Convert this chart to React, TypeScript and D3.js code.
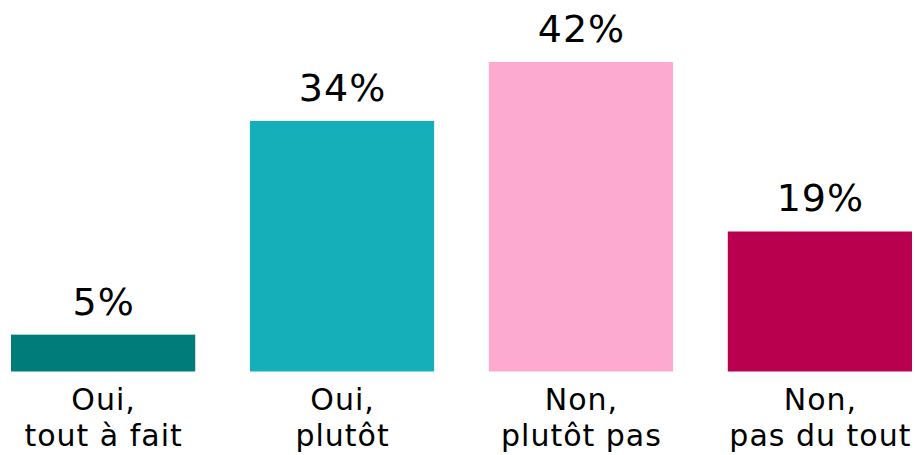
import React from "react";
import * as d3 from "d3";

const categories = ["Oui,\ntout à fait", "Oui,\nplutôt", "Non,\nplutôt pas", "Non,\npas du tout"];
const values = [5, 34, 42, 19];
const colors = ["#007D7A", "#14AFB8", "#FDAAD1", "#B9004F"];

const W = 915;
const H = 455;

export default function App() {
  const x = d3.scaleBand<string>().domain(categories).range([11, 912]).paddingInner(0.229).paddingOuter(0);
  const y = d3.scaleLinear().domain([0, 42]).range([371.5, 62]);
  const font = "'DejaVu Sans', Verdana, sans-serif";
  return (
    <svg width={W} height={H} style={{ position: "absolute", left: 0, top: 0, background: "#fff" }} fontFamily={font}>
      {categories.map((c, i) => {
        const bx = x(c)!;
        const bw = x.bandwidth();
        const cx = bx + bw / 2;
        const lines = c.split("\n");
        return (
          <g key={c}>
            <rect x={bx} y={y(values[i])} width={bw} height={y(0) - y(values[i])} fill={colors[i]} />
            <text x={cx + 0.5} y={y(values[i]) - 20} textAnchor="middle" fontSize={38} letterSpacing={1} fill="#000">
              {values[i]}%
            </text>
            {lines.map((l, j) => (
              <text key={j} x={cx + 0.5} y={410 + j * 36} textAnchor="middle" fontSize={30} letterSpacing={1} fill="#000">
                {l}
              </text>
            ))}
          </g>
        );
      })}
    </svg>
  );
}
